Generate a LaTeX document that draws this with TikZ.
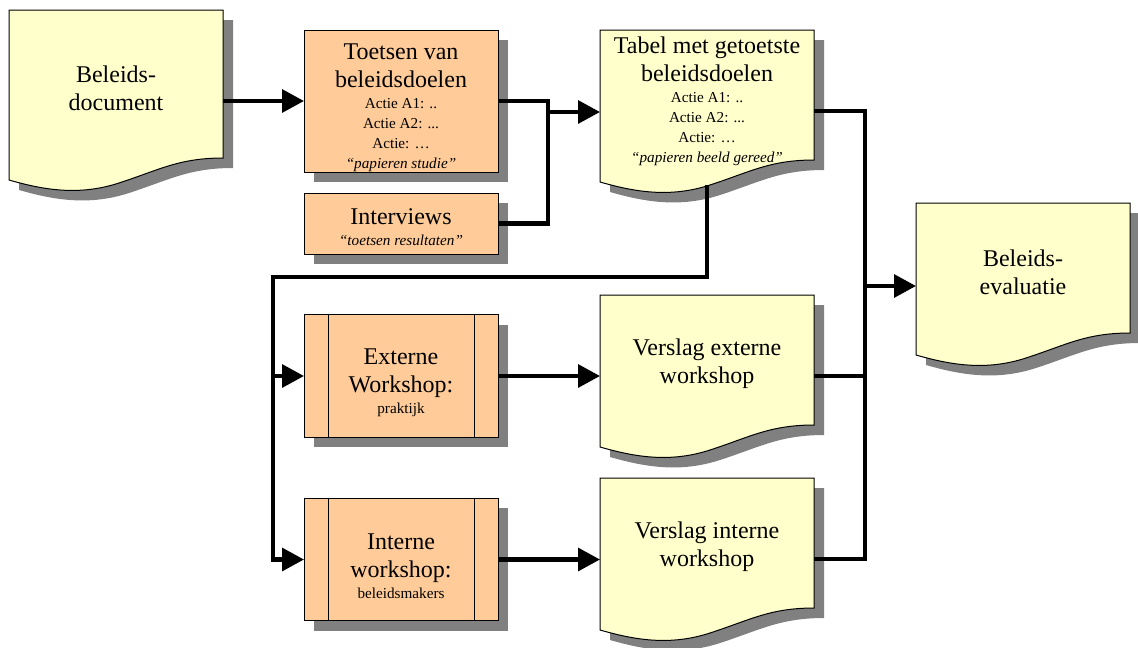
\documentclass[tikz,border=0pt]{standalone}
\usepackage{fontspec}
\setmainfont{Liberation Serif}
\usetikzlibrary{arrows.meta,shadows,backgrounds}

\definecolor{docyellow}{HTML}{FFFFCC}
\definecolor{procorange}{HTML}{FFCC99}
\definecolor{shadowgray}{HTML}{808080}

\newcommand{\bigtxt}{\fontsize{18}{21}\selectfont}
\newcommand{\smalltxt}{\fontsize{11.4}{13.9}\selectfont}
\newcommand{\topgap}{\rule{0pt}{22pt}}

% document outline with wavy bottom, #2/#3 = offset (for the shadow)
\newcommand{\docpath}[3]{%
  ([shift={(#2,#3)}]#1.north west) -- ([shift={(#2,#3)}]#1.north east)
  -- ([shift={(#2,#3-8)}]#1.south east)
  .. controls ([shift={(#2+170,#3-8)}]#1.south west) and ([shift={(#2+150,#3+4)}]#1.south west)
  .. ([shift={(#2+110,#3+17)}]#1.south west)
  .. controls ([shift={(#2+70,#3+30)}]#1.south west) and ([shift={(#2+35,#3+24)}]#1.south west)
  .. ([shift={(#2,#3+14)}]#1.south west) -- cycle}

\begin{document}
\begin{tikzpicture}[x=0.75pt,y=-0.75pt,
    procbox/.style={draw=black, line width=0.75pt, fill=procorange, minimum width=145.5pt,
      inner sep=0pt, outer sep=0pt, align=center, font=\bigtxt,
      drop shadow={shadow xshift=7.5pt, shadow yshift=-7.5pt, fill=shadowgray, opacity=1}},
    docnode/.style={minimum width=160.5pt, minimum height=103.5pt, inner sep=0pt,
      outer sep=0pt, align=center, font=\bigtxt},
    line/.style={line width=3.2pt},
    conn/.style={line, -{Triangle[length=16.5pt,width=17pt]}}]
\useasboundingbox (0,0) rectangle (1138,647);

% documents
\node[docnode, minimum height=117pt] (bel) at (116,88) {Beleids-\\document};
\node[docnode] (tabel) at (707,99) {\rule{0pt}{16pt}Tabel met getoetste\\beleidsdoelen\\[-5pt]
  \smalltxt Actie A1: ..\\[-6pt]\smalltxt Actie A2: ...\\[-6pt]\smalltxt Actie: …\\[-6pt]
  \smalltxt\textit{“papieren beeld gereed”}};
\node[docnode] (eval) at (1023,272) {Beleids-\\evaluatie};
\node[docnode] (vext) at (707,364) {Verslag externe\\workshop};
\node[docnode] (vint) at (707,547) {Verslag interne\\workshop};

\begin{scope}[on background layer]
  \foreach \d in {bel,tabel,eval,vext,vint} {
    \fill[shadowgray] \docpath{\d}{10}{10};
    \filldraw[fill=docyellow, line width=0.75pt] \docpath{\d}{0}{0};
  }
\end{scope}

% processes
\node[procbox, minimum height=106.5pt] (toets) at (401,101) {\topgap Toetsen van\\beleidsdoelen\\[-5pt]
  \smalltxt Actie A1: ..\\[-6pt]\smalltxt Actie A2: ...\\[-6pt]\smalltxt Actie: …\\[-6pt]
  \smalltxt\textit{“papieren studie”}};
\node[procbox, minimum height=45.75pt] (interv) at (401,223.5) {\rule{0pt}{17pt}Interviews\\[-5pt]\smalltxt\textit{“toetsen resultaten”}};
\node[procbox, minimum height=92pt] (extw) at (401,376) {\topgap Externe\\Workshop:\\[-5pt]\smalltxt praktijk};
\node[procbox, minimum height=92pt] (intw) at (401,559.5) {\topgap Interne\\workshop:\\[-5pt]\smalltxt beleidsmakers};
\foreach \w in {extw,intw} {
  \draw[line width=0.75pt] ([shift={(24,0)}]\w.north west) -- ([shift={(24,0)}]\w.south west);
  \draw[line width=0.75pt] ([shift={(-24,0)}]\w.north east) -- ([shift={(-24,0)}]\w.south east);
}

% connectors
\coordinate (tv) at (548,112);
\coordinate (ev) at (865,286);
\coordinate (wk) at (273,277);
\draw[conn] (toets.west -| bel.east) -- (toets.west);
\draw[line] (toets.east) -| (tv) |- (interv.east);
\draw[conn] (tv) -- (tv -| tabel.west);
\draw[line] ([shift={(0,12)}]tabel.east) -| (ev) |- ([shift={(0,12)}]vint.east);
\draw[line] ([shift={(0,12)}]vext.east) -| (ev);
\draw[conn] (ev) -- (ev -| eval.west);
\draw[conn] ([shift={(0,17)}]tabel.south) |- (wk) |- (intw.west);
\draw[conn] (wk |- extw.west) -- (extw.west);
\draw[conn] (extw.east) -- (extw.east -| vext.west);
\draw[conn] (intw.east) -- (intw.east -| vint.west);
\end{tikzpicture}
\end{document}
